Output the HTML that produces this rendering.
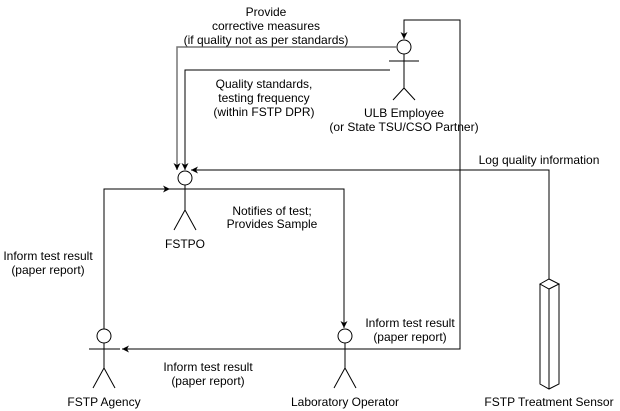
<!DOCTYPE html>
<html><head><meta charset="utf-8"><style>
html,body{margin:0;padding:0;background:#fff;width:620px;height:411px;overflow:hidden}
text{font-family:"Liberation Sans",Arial,sans-serif;font-size:12px;fill:#000}
</style></head><body>
<svg width="620" height="411" viewBox="0 0 620 411" xmlns="http://www.w3.org/2000/svg">
<defs><marker id="a" markerWidth="8" markerHeight="8" refX="7" refY="4" orient="auto" markerUnits="userSpaceOnUse"><path d="M0,0.5 L7,4 L0,7.5 L2,4 Z" fill="#000"/></marker></defs>
<g fill="none" stroke="#000" stroke-width="1">
<!-- ULB actor -->
<circle cx="404" cy="47" r="7" fill="#fff"/>
<path d="M404,54 V88 M389,61 H419 M404,88 L393,100 M404,88 L415,100"/>
<!-- FSTPO actor -->
<circle cx="185" cy="178" r="7" fill="#fff"/>
<path d="M185,185 V210 M170,189 H200 M185,210 L174,230 M185,210 L196,230"/>
<!-- Agency -->
<circle cx="104" cy="336" r="7" fill="#fff"/>
<path d="M104,343 V368 M89,349 H120 M104,368 L93,388 M104,368 L115,388"/>
<!-- Lab -->
<circle cx="345" cy="336" r="7" fill="#fff"/>
<path d="M345,343 V368 M330,349 H360 M345,368 L334,388 M345,368 L356,388"/>
<!-- sensor -->
<path d="M540,284 L549,279 L559,284 L549,289 Z M540,284 V384 L549,389 L559,384 V284 M549,289 V389"/>
<!-- connectors -->
<path d="M397,47 H177 V170" stroke="#777" stroke-width="1.5" marker-end="url(#a)"/>
<path d="M390,70 H185 V170" marker-end="url(#a)"/>
<path d="M549,279 V170 H191" marker-end="url(#a)"/>
<path d="M104,329 V189 H170" marker-end="url(#a)"/>
<path d="M200,189 H344 V328" marker-end="url(#a)"/>
<path d="M360,349 H460 V20 H404 V39" marker-end="url(#a)"/>
<path d="M460,349 H122" marker-end="url(#a)"/>
</g>
<g text-anchor="middle">
<text x="266" y="16">Provide</text>
<text x="266" y="30">corrective measures</text>
<text x="266" y="44">(if quality not as per standards)</text>
<text x="264" y="88">Quality standards,</text>
<text x="264" y="102">testing frequency</text>
<text x="264" y="116">(within FSTP DPR)</text>
<text x="404" y="117">ULB Employee</text>
<text x="404" y="131">(or State TSU/CSO Partner)</text>
<text x="539" y="164">Log quality information</text>
<text x="272" y="215">Notifies of test;</text>
<text x="272" y="228">Provides Sample</text>
<text x="185" y="248">FSTPO</text>
<text x="48" y="260">Inform test result</text>
<text x="48" y="274">(paper report)</text>
<text x="410" y="327">Inform test result</text>
<text x="410" y="341">(paper report)</text>
<text x="208" y="371">Inform test result</text>
<text x="208" y="385">(paper report)</text>
<text x="104" y="406">FSTP Agency</text>
<text x="345" y="406">Laboratory Operator</text>
<text x="549" y="406">FSTP Treatment Sensor</text>
</g>
</svg>
</body></html>
